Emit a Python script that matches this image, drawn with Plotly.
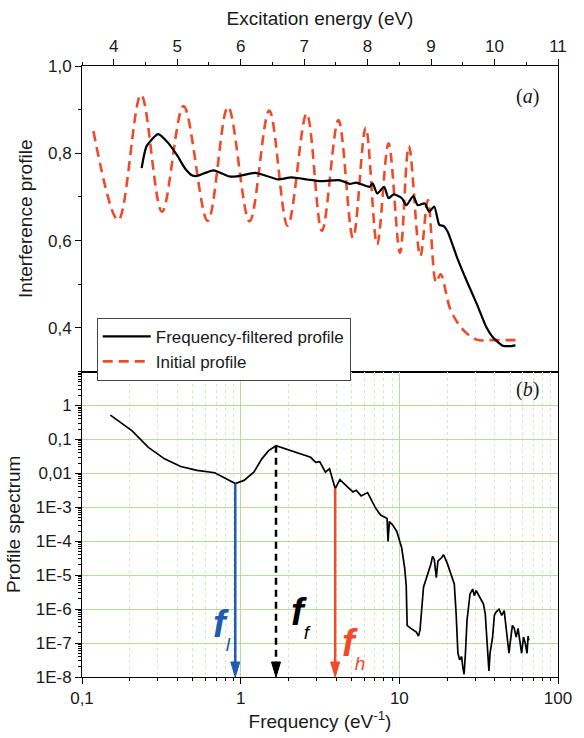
import plotly.graph_objects as go

# ---------------- data ----------------
# Panel (a): interference profiles vs excitation energy (eV)
initial_energy = [3.68, 4.07, 4.43, 4.76, 5.10, 5.48, 5.80, 6.14, 6.45, 6.74, 7.04, 7.28,
                  7.54, 7.77, 7.97, 8.15, 8.33, 8.51, 8.65, 8.83, 8.95, 9.08, 9.15, 9.31,
                  9.51, 9.72, 9.95, 10.33]
initial_values = [0.851, 0.647, 0.934, 0.666, 0.908, 0.645, 0.906, 0.644, 0.898, 0.634, 0.891, 0.622,
                  0.876, 0.606, 0.859, 0.591, 0.823, 0.572, 0.817, 0.564, 0.693, 0.504, 0.523, 0.440,
                  0.395, 0.373, 0.372, 0.372]

filtered_energy = [4.44, 4.52, 4.70, 4.85, 5.00, 5.13, 5.24, 5.31, 5.57, 5.82, 5.93, 6.23, 6.41,
                   6.59, 6.80, 7.05, 7.26, 7.46, 7.57, 7.72, 7.82, 8.03, 8.08, 8.15, 8.26, 8.33,
                   8.41, 8.54, 8.61, 8.72, 8.79, 8.90, 8.97, 9.05, 9.13, 9.20, 9.26, 9.41, 9.56,
                   9.72, 9.87, 9.97, 10.13, 10.23, 10.33]
filtered_values = [0.766, 0.817, 0.844, 0.825, 0.795, 0.764, 0.749, 0.748, 0.761, 0.747, 0.747, 0.755, 0.748,
                   0.740, 0.745, 0.740, 0.736, 0.738, 0.738, 0.730, 0.733, 0.723, 0.731, 0.708, 0.723, 0.697,
                   0.706, 0.697, 0.681, 0.702, 0.681, 0.685, 0.666, 0.678, 0.636, 0.633, 0.621, 0.561, 0.508,
                   0.455, 0.402, 0.379, 0.359, 0.358, 0.360]

# Panel (b): profile spectrum vs frequency (eV^-1)
frequency = [0.151, 0.207, 0.262, 0.331, 0.419, 0.531, 0.687, 0.811, 0.925, 1.05, 1.21, 1.36, 1.50,
             1.67, 1.99, 2.40, 2.76, 2.97, 3.15, 3.42, 3.63, 3.94, 4.22, 4.64, 5.10, 5.35, 5.74,
             6.31, 7.10, 7.62, 8.37, 8.49, 8.65, 9.08, 9.64, 10.35, 10.8, 11.05, 11.2, 11.8, 12.8,
             13.2, 13.5, 14.2, 15.8, 16.2, 16.6, 17.1, 17.5, 18.5, 19.0, 20.0, 21.1, 22.2, 22.8,
             23.4, 24.0, 24.7, 25.1, 25.6, 26.1, 26.7, 27.9, 29.0, 29.7, 30.5, 32.2, 33.9, 34.8,
             36.1, 36.7, 37.3, 38.7, 39.7, 40.7, 42.5, 44.2, 45.8, 47.8, 49.1, 50.3, 51.6, 53.0,
             54.5, 56.0, 57.5, 59.0, 60.6, 62.2, 63.8, 64.8, 65.5]
spectrum = [0.52, 0.178, 0.058, 0.0267, 0.0159, 0.0122, 0.0104, 0.00695, 0.0050, 0.0062, 0.0108, 0.0267, 0.0466,
            0.065, 0.0488, 0.0373, 0.0297, 0.0212, 0.0222, 0.0108, 0.0136, 0.00356, 0.0065, 0.00424, 0.00283, 0.00317, 0.00216,
            0.00272, 0.00093, 0.00059, 0.00047, 9.9e-5, 0.00038, 0.0003, 0.000194, 6.3e-5, 1.65e-5, 5e-6, 3.3e-7, 2.7e-7, 2.1e-7,
            1.6e-7, 2.4e-7, 4.4e-6, 2.1e-5, 3.6e-5, 2.9e-5, 8.5e-6, 2.6e-5, 3.3e-5, 4e-5, 2.3e-5, 1.07e-5, 5.5e-6, 7.3e-7,
            5e-8, 3.2e-8, 4e-8, 2e-8, 1.2e-8, 5e-8, 4.7e-7, 2.8e-6, 3.9e-6, 2.5e-6, 3.5e-6, 2.2e-6, 1.4e-6, 7.3e-7,
            6.3e-8, 1.5e-8, 5e-8, 1.5e-7, 6.5e-7, 8.2e-7, 1.0e-6, 6.5e-7, 9e-7, 1.9e-7, 5e-8, 1.3e-7, 3.3e-7, 2.7e-7,
            1.5e-7, 2.7e-7, 1.2e-7, 5e-8, 1.5e-7, 9.8e-8, 5e-8, 1.6e-7, 1.2e-7]

# Filter frequencies (f_l, f_f, f_h) and the spectrum level where each arrow starts
marker_names = ["l", "f", "h"]
marker_freqs = [0.925, 1.67, 3.94]
marker_tops = [0.0050, 0.065, 0.00356]

# Tick labels
energy_ticks = [4, 5, 6, 7, 8, 9, 10, 11]
energy_ticktext = ["4", "5", "6", "7", "8", "9", "10", "11"]
profile_ticks = [0.4, 0.6, 0.8, 1.0]
profile_ticktext = ["0,4", "0,6", "0,8", "1,0"]
freq_ticks = [0.1, 1, 10, 100]
freq_ticktext = ["0,1", "1", "10", "100"]
spec_ticks = [1e-8, 1e-7, 1e-6, 1e-5, 1e-4, 1e-3, 1e-2, 1e-1, 1]
spec_ticktext = ["1E-8", "1E-7", "1E-6", "1E-5", "1E-4", "1E-3", "0,01", "0,1", "1"]

# ---------------- styles ----------------
RED = "#ef4b2b"
BLUE = "#1f5cb0"
GRID = "#b5dc9c"
GRID_MINOR = "#d3eac6"
FONT = "Liberation Sans, Arial, sans-serif"
SERIF = "Liberation Serif, Times New Roman, serif"
TXT = "#1a1a1a"
marker_colors = [BLUE, "black", RED]

fig = go.Figure()
fig.add_trace(go.Scatter(
    x=initial_energy, y=initial_values, xaxis="x", yaxis="y", mode="lines",
    line=dict(color=RED, width=2.6, dash="10px,6px", shape="spline", smoothing=1.0),
    name="Initial profile", legendrank=2))
fig.add_trace(go.Scatter(
    x=filtered_energy, y=filtered_values, xaxis="x", yaxis="y", mode="lines",
    line=dict(color="black", width=2.2, shape="spline", smoothing=0.6),
    name="Frequency-filtered profile", legendrank=1))
fig.add_trace(go.Scatter(
    x=frequency, y=spectrum, xaxis="x2", yaxis="y2", mode="lines",
    line=dict(color="black", width=1.7), showlegend=False))

axis_common = dict(showline=True, linecolor="black", linewidth=1, mirror=True,
                   ticks="outside", ticklen=6, tickcolor="black", zeroline=False,
                   tickfont=dict(family=FONT, size=17, color=TXT))
title_font = dict(family=FONT, size=19, color=TXT)

fig.update_layout(
    width=584, height=738,
    margin=dict(l=82, r=13.5, t=66, b=54),
    paper_bgcolor="white", plot_bgcolor="white",
    font=dict(family=FONT, color=TXT),
    xaxis=dict(axis_common, domain=[0, 1], anchor="y", side="top", range=[3.5, 11],
               tickmode="array", tickvals=energy_ticks, ticktext=energy_ticktext,
               minor=dict(tick0=3.5, dtick=0.5, ticks="outside", ticklen=3, tickcolor="black"),
               showgrid=False,
               title=dict(text="Excitation energy (eV)", font=title_font, standoff=6)),
    yaxis=dict(axis_common, domain=[0.5, 1], anchor="x", range=[0.3, 1.0],
               tickmode="array", tickvals=profile_ticks, ticktext=profile_ticktext,
               minor=dict(tick0=0.3, dtick=0.1, ticks="outside", ticklen=3, tickcolor="black"),
               showgrid=False,
               title=dict(text="Interference profile", font=title_font, standoff=10)),
    xaxis2=dict(axis_common, domain=[0, 1], anchor="y2", type="log", range=[-1, 2],
                tickmode="array", tickvals=freq_ticks, ticktext=freq_ticktext,
                showgrid=True, gridcolor=GRID, gridwidth=1,
                minor=dict(dtick="D1", ticks="outside", ticklen=3, tickcolor="black",
                           showgrid=True, gridcolor=GRID_MINOR, griddash="dot", gridwidth=1),
                title=dict(text="Frequency (eV<sup>-1</sup>)", font=title_font, standoff=4)),
    yaxis2=dict(axis_common, domain=[0, 0.5], anchor="x2", type="log", range=[-8, 1],
                tickmode="array", tickvals=spec_ticks, ticktext=spec_ticktext,
                showgrid=True, gridcolor=GRID, gridwidth=1,
                minor=dict(dtick="D1", ticks="outside", ticklen=3, tickcolor="black", showgrid=False),
                title=dict(text="Profile spectrum", font=title_font, standoff=10)),
    legend=dict(x=0.031, y=0.588, xanchor="left", yanchor="top",
                bgcolor="white", bordercolor="#444", borderwidth=1, itemwidth=48,
                font=dict(family=FONT, size=17, color=TXT), tracegroupgap=0),
    showlegend=True,
)

annotations = [
    dict(text="(<i>a</i>)", xref="paper", yref="paper", x=0.964, y=0.972, showarrow=False,
         font=dict(family=SERIF, size=20, color=TXT)),
    dict(text="(<i>b</i>)", xref="paper", yref="paper", x=0.964, y=0.471, showarrow=False,
         font=dict(family=SERIF, size=20, color=TXT)),
]
shapes = []

# label anchor positions (log10 units) for each "f" symbol
label_pos = {"l": (-0.118, -6.58), "f": (0.378, -6.22), "h": (0.708, -7.16)}
y_bottom = spec_ticks[0]

for name, f, top, col in zip(marker_names, marker_freqs, marker_tops, marker_colors):
    # arrow shaft
    shapes.append(dict(type="line", xref="x2", yref="y2", x0=f, x1=f, y0=top, y1=y_bottom * 1.6,
                       line=dict(color=col, width=2.5, dash="7px,5px" if name == "f" else "solid")))
    # arrow head (pixel-sized triangle anchored at the axis floor)
    shapes.append(dict(type="path", xref="x2", yref="y2", xsizemode="pixel", ysizemode="pixel",
                       xanchor=f, yanchor=y_bottom, path="M -4.5,15 L 4.5,15 L 0,0 Z",
                       fillcolor=col, line=dict(color=col, width=1)))
    fx, fy = label_pos[name]
    annotations.append(dict(
        text="f<sub><sub><span style='font-size:19px;font-weight:normal'>" + name + "</span></sub></sub>",
        x=fx, y=fy, xref="x2", yref="y2", showarrow=False,
        font=dict(family=FONT, size=38, color=col, weight="bold", style="italic")))

fig.update_layout(annotations=annotations, shapes=shapes)

fig.write_html("out.html")
